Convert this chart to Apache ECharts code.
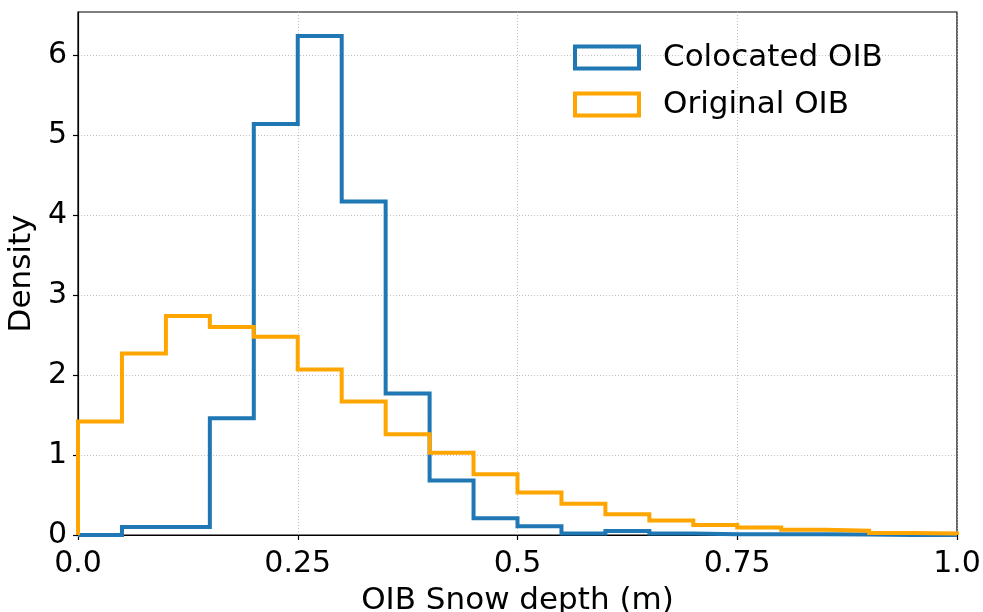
<!DOCTYPE html>
<html>
<head>
<meta charset="utf-8">
<script src="https://cdn.jsdelivr.net/npm/echarts@6/dist/echarts.min.js"></script>
<style>
  html, body { margin: 0; padding: 0; background: #fff; }
  #chart { width: 983px; height: 612px; }
</style>
</head>
<body>
<div id="chart"></div>
<script>
// histogram bins: 0 to 1.0 m, width 0.05
const binEdges = [0, 0.05, 0.1, 0.15, 0.2, 0.25, 0.3, 0.35, 0.4, 0.45, 0.5,
  0.55, 0.6, 0.65, 0.7, 0.75, 0.8, 0.85, 0.9, 0.95, 1.0];
const colocated = [0, 0.10, 0.10, 1.46, 5.14, 6.24, 4.17, 1.77, 0.68, 0.21,
  0.11, 0.02, 0.05, 0.02, 0.01, 0.01, 0.01, 0.005, 0, 0];
const original = [1.42, 2.27, 2.74, 2.60, 2.48, 2.07, 1.67, 1.26, 1.03, 0.76,
  0.53, 0.39, 0.26, 0.18, 0.125, 0.095, 0.066, 0.053, 0.025, 0.02];
const xTicks = [0, 0.25, 0.5, 0.75, 1.0];
const yTicks = [0, 1, 2, 3, 4, 5, 6];

// outline of a step histogram: up from baseline, across each bin, back down
function stepOutline(values) {
  const pts = [[binEdges[0], 0]];
  values.forEach((v, i) => pts.push([binEdges[i], v]));
  pts.push([binEdges[binEdges.length - 1], values[values.length - 1]]);
  pts.push([binEdges[binEdges.length - 1], 0]);
  return pts;
}

const chart = echarts.init(document.getElementById('chart'));
const font = 'DejaVu Sans';
const gridLine = { show: true, lineStyle: { color: '#b0b0b0', type: [1, 2], width: 0.8 } };

const option = {
  animation: false,
  grid: {
    left: 78, right: 26, top: 12, bottom: 77,
    outerBoundsMode: 'none',
    containLabel: false,
    show: true, borderColor: '#000', borderWidth: 1.2
  },
  legend: {
    orient: 'vertical',
    left: 573, top: 42,
    padding: 0,
    itemWidth: 64, itemHeight: 22,
    itemGap: 16,
    icon: 'rect',
    textStyle: { fontFamily: font, fontSize: 31, color: '#000', padding: [0, 0, 0, 19] },
    data: [
      { name: 'Colocated OIB', itemStyle: { color: 'transparent', borderColor: '#1f77b4', borderWidth: 4 } },
      { name: 'Original OIB', itemStyle: { color: 'transparent', borderColor: '#ffa500', borderWidth: 4 } }
    ]
  },
  xAxis: {
    type: 'value',
    min: 0, max: 1.0, interval: 0.25,
    name: 'OIB Snow depth (m)',
    nameLocation: 'middle',
    nameGap: 50,
    nameTextStyle: { fontFamily: font, fontSize: 31, color: '#000' },
    axisLine: { show: true, lineStyle: { color: '#000', width: 1.2 } },
    axisTick: { show: true, inside: false, length: 5, customValues: xTicks, lineStyle: { color: '#000', width: 1.2 } },
    axisLabel: {
      fontFamily: font, fontSize: 30, color: '#000', margin: 14,
      customValues: xTicks,
      formatter: v => (v === 0 ? '0.0' : v === 1 ? '1.0' : String(v))
    },
    splitLine: gridLine
  },
  yAxis: {
    type: 'value',
    min: 0, max: 6.54, interval: 1,
    name: 'Density',
    nameLocation: 'middle',
    nameGap: 36,
    nameTextStyle: { fontFamily: font, fontSize: 31, color: '#000' },
    axisLine: { show: true, lineStyle: { color: '#000', width: 1.2 } },
    axisTick: { show: true, inside: false, length: 5, customValues: yTicks, lineStyle: { color: '#000', width: 1.2 } },
    axisLabel: {
      fontFamily: font, fontSize: 30, color: '#000', margin: 11,
      customValues: yTicks
    },
    splitLine: gridLine
  },
  series: [
    {
      name: 'Colocated OIB',
      type: 'line',
      step: 'end',
      showSymbol: false,
      color: '#1f77b4',
      lineStyle: { width: 4, color: '#1f77b4', join: 'miter' },
      data: stepOutline(colocated)
    },
    {
      name: 'Original OIB',
      type: 'line',
      step: 'end',
      showSymbol: false,
      color: '#ffa500',
      lineStyle: { width: 4, color: '#ffa500', join: 'miter' },
      data: stepOutline(original)
    }
  ]
};

chart.setOption(option);
</script>
</body>
</html>
